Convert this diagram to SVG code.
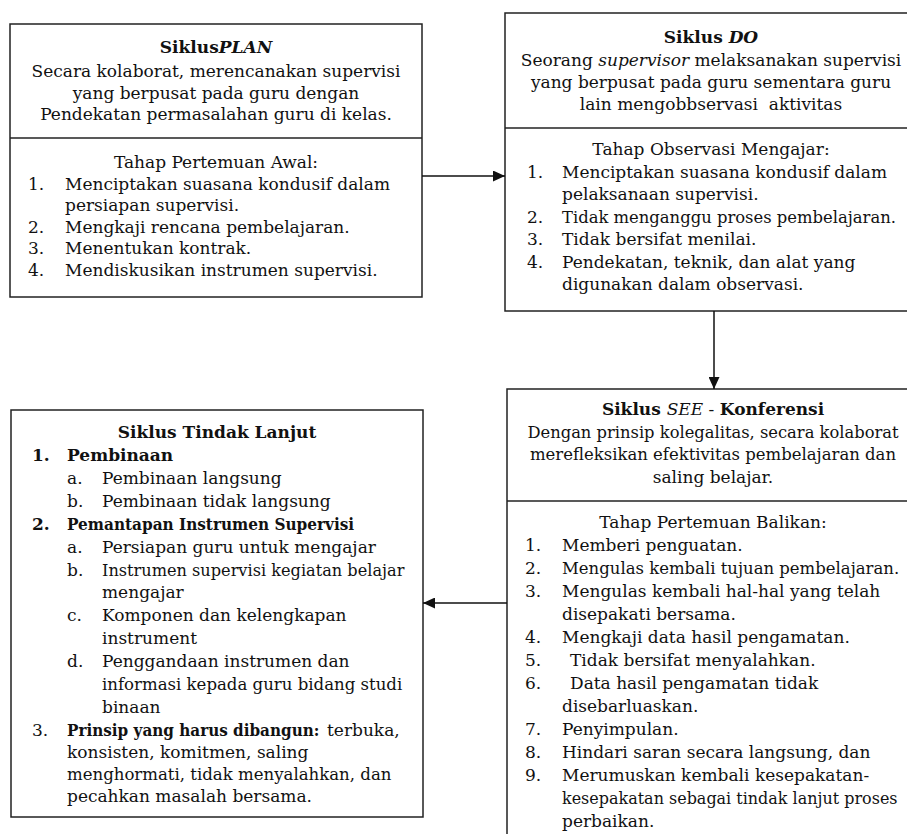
<svg xmlns="http://www.w3.org/2000/svg" width="907" height="834" viewBox="0 0 907 834">
<style>
text{font-family:"DejaVu Serif","Liberation Serif",serif;font-size:17px;fill:#111}
.m{text-anchor:middle}
.b{font-weight:bold}
.i{font-style:italic}
.box{fill:#fff;stroke:#222;stroke-width:1.5}
.div{stroke:#222;stroke-width:1.5}
.conn line{stroke:#111;stroke-width:1.5;marker-end:url(#arr)}
</style>
<defs>
<marker id="arr" markerUnits="userSpaceOnUse" markerWidth="13" markerHeight="11" refX="12" refY="5.5" orient="auto">
<path d="M0,0 L12,5.5 L0,11 z" fill="#111"/>
</marker>
</defs>
<rect width="907" height="834" fill="#fff"/>

<g id="plan">
<rect class="box" x="10" y="24" width="412" height="273"/>
<line class="div" x1="10" y1="138" x2="422" y2="138"/>
<text class="m" x="216" y="53"><tspan class="b">Siklus</tspan><tspan class="b i">PLAN</tspan></text>
<text class="m" x="216" y="77">Secara kolaborat, merencanakan supervisi</text>
<text class="m" x="216" y="98.5">yang berpusat pada guru dengan</text>
<text class="m" x="216" y="120">Pendekatan permasalahan guru di kelas.</text>
<text class="m" x="216" y="168">Tahap Pertemuan Awal:</text>
<text x="28" y="189.5">1.</text><text x="65" y="189.5">Menciptakan suasana kondusif dalam</text>
<text x="65" y="211">persiapan supervisi.</text>
<text x="28" y="232.5">2.</text><text x="65" y="232.5">Mengkaji rencana pembelajaran.</text>
<text x="28" y="254">3.</text><text x="65" y="254">Menentukan kontrak.</text>
<text x="28" y="275.5">4.</text><text x="65" y="275.5">Mendiskusikan instrumen supervisi.</text>
</g>

<g id="do">
<rect class="box" x="505" y="13" width="412" height="298"/>
<line class="div" x1="505" y1="128" x2="917" y2="128"/>
<text class="m" x="711" y="43"><tspan class="b">Siklus </tspan><tspan class="b i">DO</tspan></text>
<text class="m" x="711" y="66">Seorang <tspan class="i">supervisor</tspan> melaksanakan supervisi</text>
<text class="m" x="711" y="88">yang berpusat pada guru sementara guru</text>
<text class="m" x="711" y="110" style="white-space:pre">lain mengobbservasi  aktivitas</text>
<text class="m" x="711" y="155">Tahap Observasi Mengajar:</text>
<text x="527" y="177.5">1.</text><text x="562" y="177.5">Menciptakan suasana kondusif dalam</text>
<text x="562" y="200">pelaksanaan supervisi.</text>
<text x="527" y="222.5">2.</text><text transform="translate(562,222.5) scale(0.965,1)">Tidak menganggu proses pembelajaran.</text>
<text x="527" y="245">3.</text><text x="562" y="245">Tidak bersifat menilai.</text>
<text x="527" y="267.5">4.</text><text x="562" y="267.5">Pendekatan, teknik, dan alat yang</text>
<text x="562" y="290">digunakan dalam observasi.</text>
</g>

<g id="see">
<rect class="box" x="507" y="389" width="412" height="460"/>
<line class="div" x1="507" y1="501" x2="919" y2="501"/>
<text class="m" x="713" y="415"><tspan class="b">Siklus </tspan><tspan class="i">SEE</tspan> - <tspan class="b">Konferensi</tspan></text>
<text class="m" transform="translate(713,438) scale(0.96,1)">Dengan prinsip kolegalitas, secara kolaborat</text>
<text class="m" transform="translate(713,460) scale(0.97,1)">merefleksikan efektivitas pembelajaran dan</text>
<text class="m" x="713" y="483">saling belajar.</text>
<text class="m" x="713" y="528">Tahap Pertemuan Balikan:</text>
<text x="525" y="551">1.</text><text x="562" y="551">Memberi penguatan.</text>
<text x="525" y="574">2.</text><text transform="translate(562,574) scale(0.97,1)">Mengulas kembali tujuan pembelajaran.</text>
<text x="525" y="597">3.</text><text x="562" y="597">Mengulas kembali hal-hal yang telah</text>
<text x="562" y="620">disepakati bersama.</text>
<text x="525" y="643">4.</text><text x="562" y="643">Mengkaji data hasil pengamatan.</text>
<text x="525" y="666">5.</text><text x="570" y="666">Tidak bersifat menyalahkan.</text>
<text x="525" y="689">6.</text><text x="570" y="689">Data hasil pengamatan tidak</text>
<text x="562" y="712">disebarluaskan.</text>
<text x="525" y="735">7.</text><text x="562" y="735">Penyimpulan.</text>
<text x="525" y="758">8.</text><text x="562" y="758">Hindari saran secara langsung, dan</text>
<text x="525" y="781">9.</text><text x="562" y="781">Merumuskan kembali kesepakatan-</text>
<text transform="translate(562,804) scale(0.94,1)">kesepakatan sebagai tindak lanjut proses</text>
<text x="562" y="827">perbaikan.</text>
</g>

<g id="tindak-lanjut">
<rect class="box" x="11" y="410" width="412" height="407"/>
<text class="m b" x="217" y="438">Siklus Tindak Lanjut</text>
<text class="b" x="32" y="461">1.</text><text class="b" x="67" y="461">Pembinaan</text>
<text x="67" y="484">a.</text><text x="102" y="484">Pembinaan langsung</text>
<text x="67" y="507">b.</text><text x="102" y="507">Pembinaan tidak langsung</text>
<text class="b" x="32" y="530">2.</text><text class="b" transform="translate(67,530) scale(0.9,1)">Pemantapan Instrumen Supervisi</text>
<text x="67" y="553">a.</text><text x="102" y="553">Persiapan guru untuk mengajar</text>
<text x="67" y="576">b.</text><text transform="translate(102,576) scale(0.95,1)">Instrumen supervisi kegiatan belajar</text>
<text x="102" y="598">mengajar</text>
<text x="67" y="621">c.</text><text x="102" y="621">Komponen dan kelengkapan</text>
<text x="102" y="644">instrument</text>
<text x="67" y="667">d.</text><text x="102" y="667">Penggandaan instrumen dan</text>
<text transform="translate(102,690) scale(0.975,1)">informasi kepada guru bidang studi</text>
<text x="102" y="713">binaan</text>
<text x="32" y="736">3.</text><text class="b" transform="translate(67,736) scale(0.895,1)">Prinsip yang harus dibangun:</text><text x="327" y="736">terbuka,</text>
<text x="67" y="758">konsisten, komitmen, saling</text>
<text transform="translate(67,780) scale(0.975,1)">menghormati, tidak menyalahkan, dan</text>
<text x="67" y="802">pecahkan masalah bersama.</text>
</g>

<g id="connectors" class="conn">
<line x1="422" y1="176" x2="505" y2="176"/>
<line x1="714" y1="311" x2="714" y2="389"/>
<line x1="507" y1="603" x2="423" y2="603"/>
</g>
</svg>
